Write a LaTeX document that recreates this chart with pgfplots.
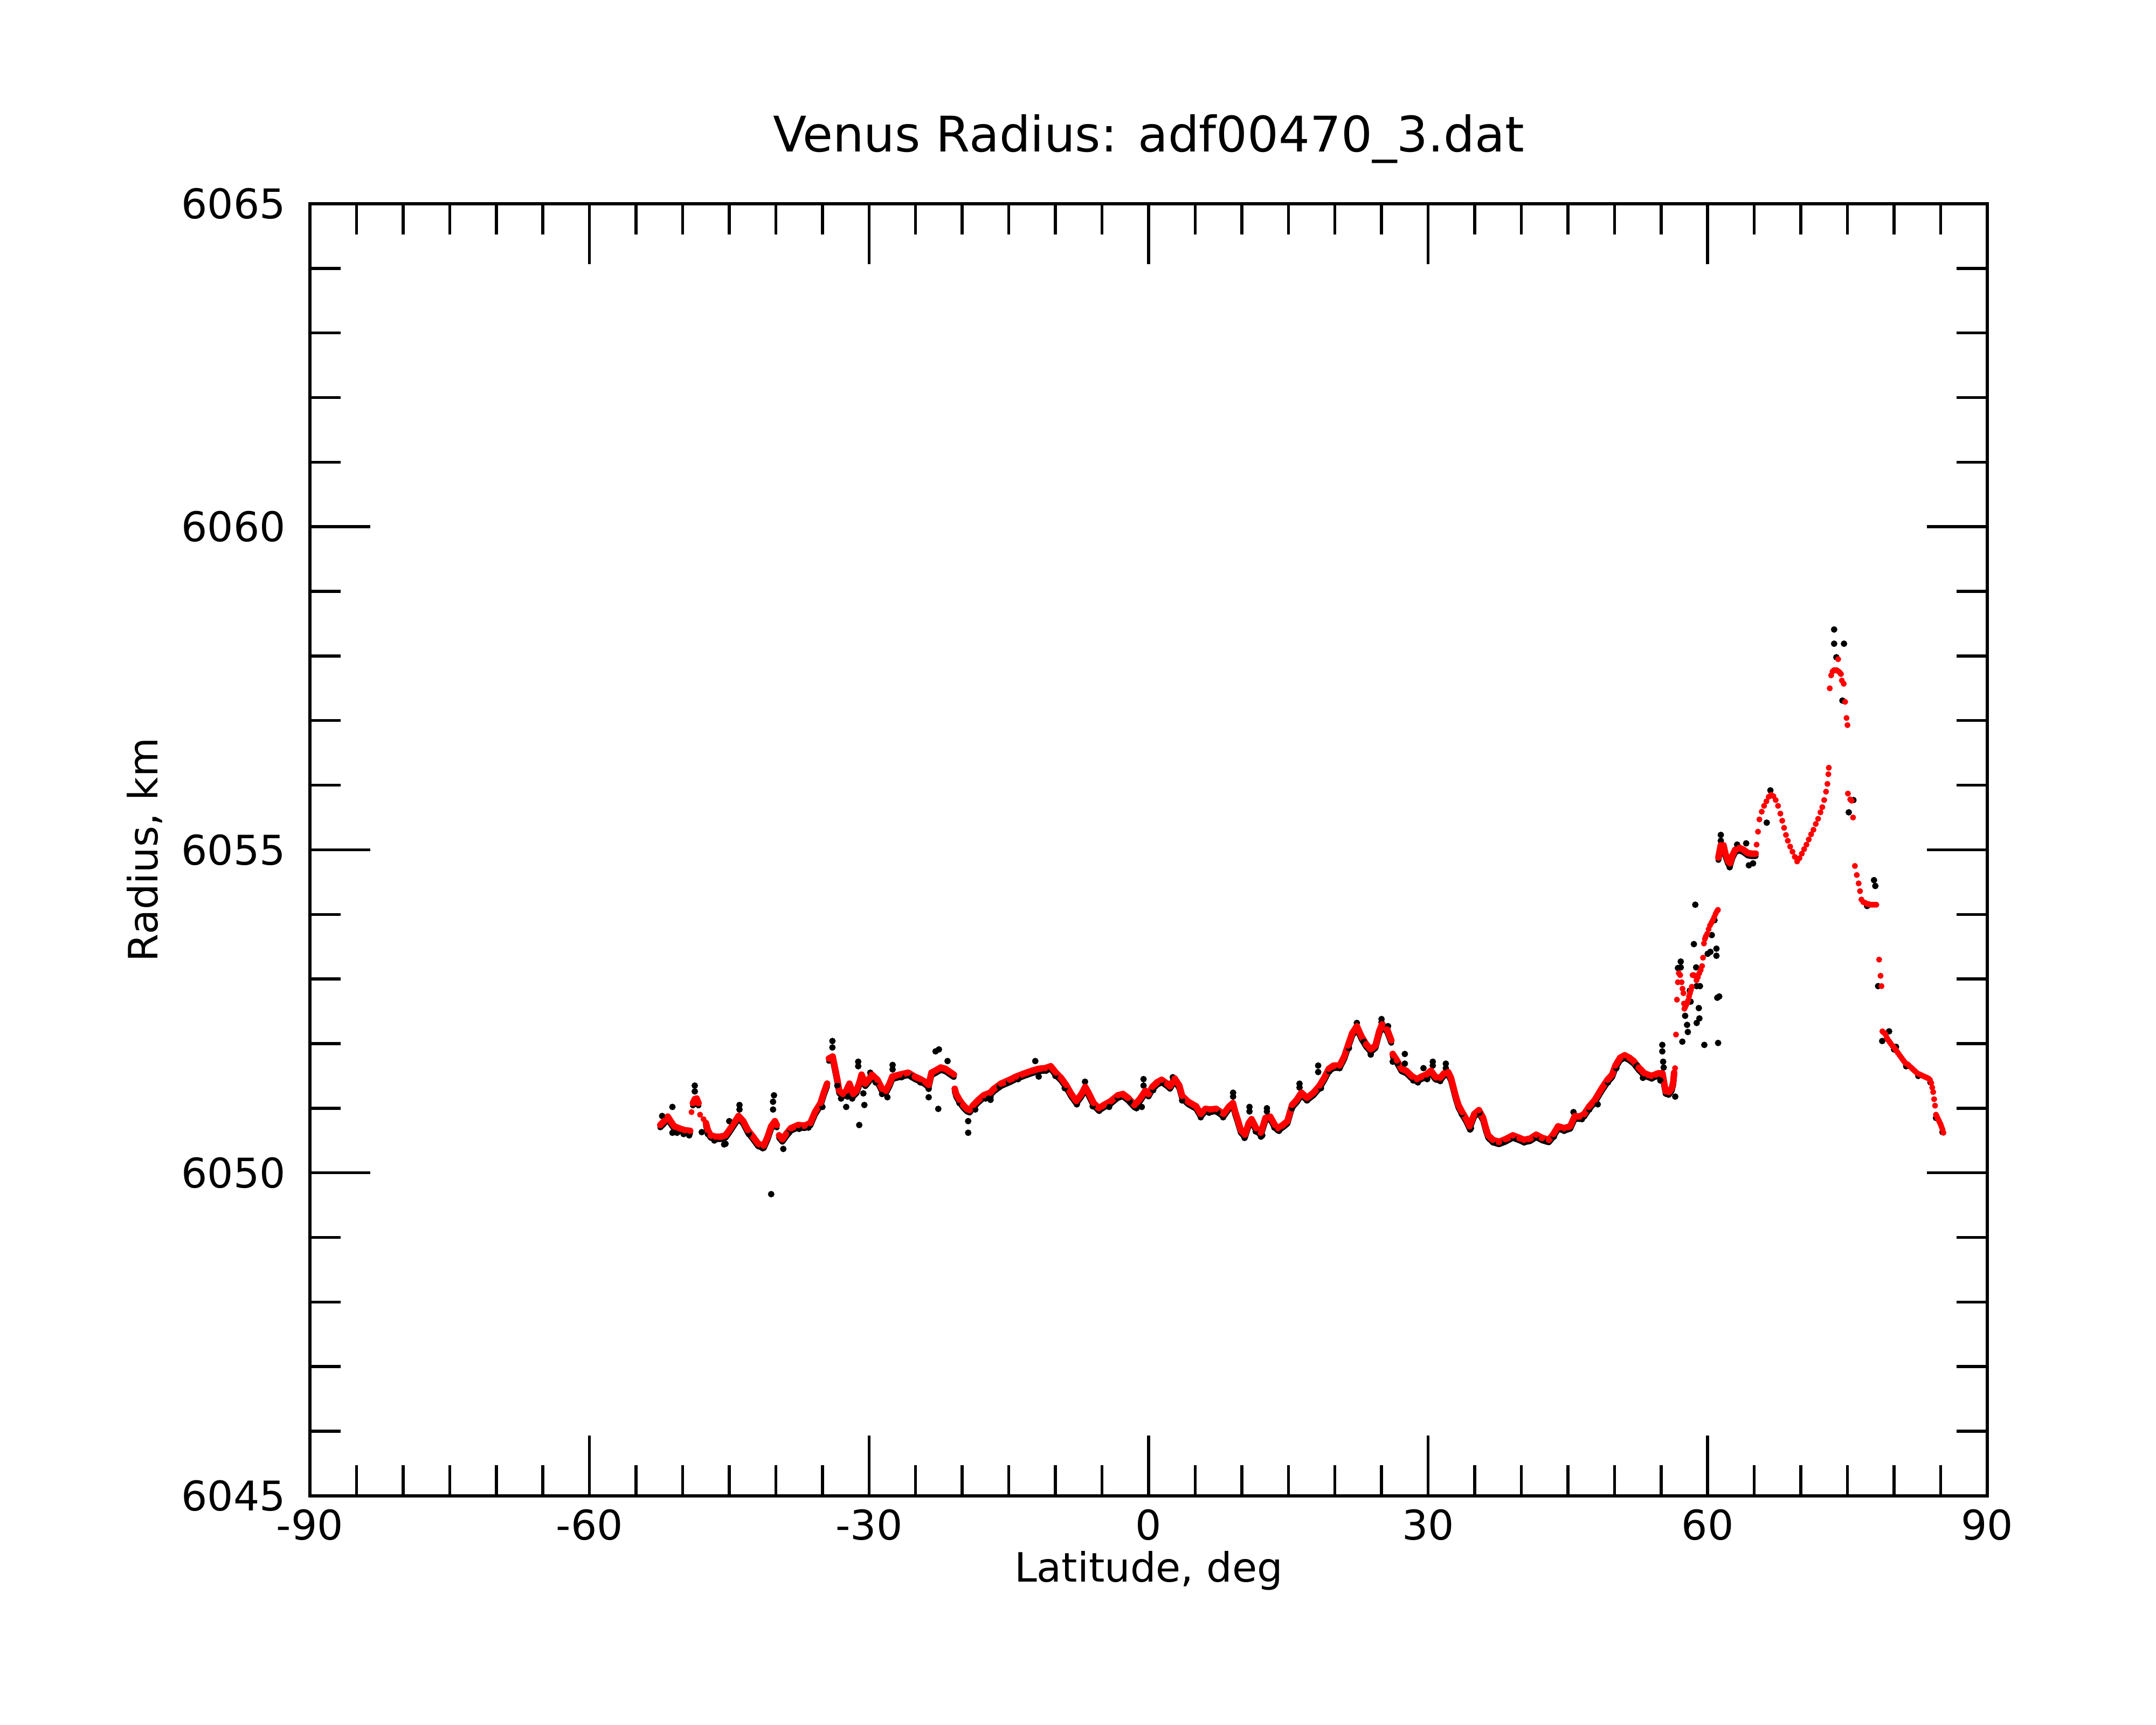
\documentclass[border=0pt]{standalone}
\usepackage{fontspec}
\setmainfont{DejaVu Sans}
\usepackage{pgfplots}
\usepackage{pgfplotstable}
\pgfplotsset{compat=1.18}
\pgfplotstableread[row sep=\\]{
x y \\
-52.4 6050.74 \\ -52.0 6050.80 \\ -51.6 6050.87 \\ -51.2 6050.78 \\ -50.9 6050.72 \\ -50.4 6050.69 \\
-49.8 6050.66 \\ -49.2 6050.65 \\ nan nan \\
-48.9 6051.08 \\ -48.7 6051.14 \\ -48.5 6051.15 \\ -48.3 6051.08 \\ nan nan \\
-47.5 6050.77 \\ -47.3 6050.66 \\ -47.0 6050.58 \\ -46.5 6050.56 \\ -45.9 6050.56 \\ -45.4 6050.58 \\
-45.0 6050.66 \\ -44.5 6050.77 \\ -44.0 6050.88 \\ -43.5 6050.80 \\ -43.0 6050.66 \\ -42.4 6050.55 \\
-41.9 6050.45 \\ -41.3 6050.42 \\ -40.9 6050.55 \\ -40.5 6050.72 \\ -40.1 6050.80 \\ -39.9 6050.74 \\ nan nan \\
-39.65 6050.58 \\ -39.3 6050.52 \\ -38.9 6050.60 \\ -38.4 6050.69 \\ -37.6 6050.74 \\ -36.9 6050.73 \\
-36.3 6050.77 \\ -35.8 6050.94 \\ -35.2 6051.08 \\ -34.85 6051.24 \\ -34.5 6051.38 \\ nan nan \\
-34.3 6051.77 \\ -33.9 6051.80 \\ -33.75 6051.69 \\ -33.55 6051.55 \\ -33.4 6051.44 \\ -33.2 6051.27 \\
-32.8 6051.22 \\ -32.45 6051.27 \\ -32.1 6051.38 \\ -31.7 6051.22 \\ -31.35 6051.27 \\ -31.0 6051.41 \\
-30.8 6051.52 \\ -30.4 6051.38 \\ -30.05 6051.44 \\ -29.7 6051.52 \\ -29.1 6051.44 \\ -28.6 6051.30 \\
-28.2 6051.27 \\ -27.8 6051.38 \\ -27.5 6051.49 \\ -26.7 6051.52 \\ -25.8 6051.55 \\ -25.1 6051.49 \\
-24.5 6051.45 \\ -24.0 6051.41 \\ -23.6 6051.36 \\ -23.3 6051.55 \\ -22.9 6051.58 \\ -22.3 6051.63 \\
-21.8 6051.61 \\ -21.2 6051.55 \\ -20.9 6051.52 \\ nan nan \\
-20.8 6051.30 \\ -20.65 6051.22 \\ -20.3 6051.13 \\ -19.9 6051.05 \\ -19.5 6050.99 \\ -19.2 6050.97 \\
-18.8 6051.05 \\ -18.25 6051.13 \\ -17.7 6051.20 \\ -17.0 6051.24 \\ -16.6 6051.30 \\ -15.85 6051.38 \\
-14.9 6051.44 \\ -14.2 6051.49 \\ -13.3 6051.54 \\ -12.5 6051.58 \\ -11.8 6051.61 \\ -11.1 6051.62 \\
-10.5 6051.65 \\ -9.95 6051.55 \\ -9.4 6051.47 \\ -8.85 6051.36 \\ -8.3 6051.22 \\ -7.75 6051.11 \\
-7.2 6051.22 \\ -6.8 6051.33 \\ -6.45 6051.24 \\ -5.9 6051.08 \\ -5.35 6051.00 \\ -4.8 6051.05 \\
-4.05 6051.11 \\ -3.3 6051.20 \\ -2.75 6051.22 \\ -2.2 6051.16 \\ -1.5 6051.05 \\ -0.9 6051.15 \\
-0.35 6051.27 \\ 0.0 6051.22 \\ 0.4 6051.33 \\ 0.9 6051.40 \\ 1.4 6051.44 \\ 2.0 6051.38 \\
2.3 6051.34 \\ 2.8 6051.46 \\ 3.3 6051.35 \\ 3.6 6051.19 \\ 4.25 6051.10 \\ 5.1 6051.03 \\
5.6 6050.91 \\ 6.1 6050.99 \\ 6.6 6050.98 \\ 7.25 6050.99 \\ 8.05 6050.91 \\ 8.6 6051.02 \\
9.05 6051.08 \\ 9.3 6050.94 \\ 9.55 6050.83 \\ 9.9 6050.66 \\ 10.35 6050.59 \\ 10.75 6050.77 \\
11.05 6050.83 \\ 11.55 6050.69 \\ 12.05 6050.62 \\ 12.55 6050.85 \\ 13.05 6050.87 \\ 13.55 6050.74 \\
13.9 6050.69 \\ 14.4 6050.74 \\ 14.9 6050.80 \\ 15.4 6051.05 \\ 15.9 6051.13 \\ 16.4 6051.24 \\
17.0 6051.16 \\ 17.7 6051.24 \\ 18.35 6051.35 \\ 18.85 6051.47 \\ 19.35 6051.61 \\ 19.85 6051.66 \\
20.5 6051.66 \\ 21.0 6051.80 \\ 21.4 6051.97 \\ 21.85 6052.16 \\ 22.35 6052.27 \\ 22.85 6052.11 \\
23.35 6051.99 \\ 23.85 6051.91 \\ 24.35 6051.97 \\ 24.75 6052.19 \\ 25.05 6052.30 \\ 25.6 6052.22 \\
26.05 6052.05 \\ nan nan \\
26.2 6051.84 \\ 26.65 6051.74 \\ 27.15 6051.61 \\ 27.65 6051.58 \\ 28.3 6051.49 \\ 28.8 6051.45 \\
29.3 6051.49 \\ 29.8 6051.52 \\ 30.3 6051.58 \\ 30.8 6051.48 \\ 31.3 6051.47 \\ 31.7 6051.54 \\
32.15 6051.56 \\ 32.45 6051.47 \\ 32.7 6051.33 \\ 32.95 6051.19 \\ 33.25 6051.05 \\ 33.65 6050.94 \\
34.1 6050.83 \\ 34.45 6050.72 \\ 34.95 6050.91 \\ 35.45 6050.97 \\ 35.9 6050.85 \\ 36.2 6050.69 \\
36.45 6050.58 \\ 36.95 6050.51 \\ 37.6 6050.48 \\ 38.3 6050.52 \\ 39.1 6050.58 \\ 39.8 6050.54 \\
40.3 6050.51 \\ 40.95 6050.53 \\ 41.6 6050.59 \\ 42.25 6050.54 \\ 42.95 6050.51 \\ 43.45 6050.60 \\
43.95 6050.72 \\ 44.6 6050.69 \\ 45.25 6050.72 \\ 45.75 6050.88 \\ 46.25 6050.87 \\ 46.75 6050.91 \\
47.25 6051.02 \\ 47.9 6051.13 \\ 48.6 6051.30 \\ 49.25 6051.44 \\ 49.75 6051.52 \\ 50.1 6051.66 \\
50.6 6051.78 \\ 51.1 6051.82 \\ 51.6 6051.78 \\ 52.05 6051.73 \\ 52.6 6051.63 \\ 53.2 6051.54 \\
53.95 6051.50 \\ 54.7 6051.54 \\ 55.15 6051.54 \\ 55.35 6051.37 \\ 55.5 6051.26 \\ 55.85 6051.25 \\
56.15 6051.31 \\ 56.3 6051.40 \\ 56.4 6051.55 \\ nan nan \\
61.15 6054.88 \\ 61.4 6055.07 \\ 61.7 6055.07 \\ 61.9 6054.94 \\ 62.2 6054.82 \\ 62.4 6054.79 \\
62.65 6054.91 \\ 62.95 6055.00 \\ 63.4 6055.03 \\ 63.85 6055.00 \\ 64.3 6054.95 \\ 64.7 6054.94 \\
65.15 6054.94 \\
}\reddense
\begin{document}
\begin{tikzpicture}
\useasboundingbox (0,0) rectangle (400pt,320pt);
\begin{axis}[
  at={(57.5pt,42.5pt)}, anchor=south west,
  scale only axis, width=311.2pt, height=239.7pt,
  xmin=-90, xmax=90, ymin=6045, ymax=6065,
  xtick={-90,-60,-30,0,30,60,90},
  xticklabels={-90,-60,-30,0,30,60,90},
  ytick={6045,6050,6055,6060,6065},
  yticklabels={6045,6050,6055,6060,6065},
  minor x tick num=5, minor y tick num=4,
  tick align=inside,
  major tick length=11.2pt, minor tick length=5.7pt,
  tick style={black, line width=0.55pt},
  axis line style={line width=0.55pt},
  tick label style={font=\fontsize{7.6}{9}\selectfont},
  x tick label style={anchor=north, inner sep=0pt, yshift=-2.3pt},
  y tick label style={anchor=east, inner sep=0pt, xshift=-4.3pt},
  title={Venus Radius: adf00470\_3.dat},
  every axis title/.style={at={(axis description cs:0.5,1)}, anchor=base, yshift=9.6pt, font=\fontsize{9.1}{11}\selectfont},
  xlabel={Latitude, deg}, ylabel={Radius, km},
  every axis x label/.style={at={(axis description cs:0.5,0)}, anchor=base, yshift=-16pt, font=\fontsize{7.5}{9}\selectfont},
  every axis y label/.style={at={(axis description cs:0,0.5)}, xshift=-28.3pt, rotate=90, anchor=base, font=\fontsize{7.5}{9}\selectfont},
  unbounded coords=jump,
]
% raw data (black): points lying along the curve, just below it
\addplot[black, line width=1.1pt, line join=round, line cap=round, yshift=-0.45pt] table {\reddense};
% raw data (black): scattered points
\addplot[only marks, mark=*, mark size=0.55pt, black, mark options={line width=0.1pt}] table[row sep=\\]{
x y \\
-52.2 6050.88 \\ -51.1 6051.02 \\ -51.1 6050.62 \\ -50.6 6050.62 \\ -49.9 6050.60 \\ -49.3 6050.58 \\
-48.7 6051.35 \\ -48.7 6051.26 \\ -47.95 6050.63 \\ -47.3 6050.60 \\ -46.6 6050.50 \\ -45.55 6050.44 \\
-45.4 6050.45 \\ -45.0 6050.80 \\ -43.9 6051.05 \\ -43.9 6050.98 \\ -42.9 6050.60 \\ -41.4 6050.38 \\
-40.5 6049.67 \\ -40.2 6051.20 \\ -40.3 6050.98 \\ -40.3 6051.10 \\ -39.2 6050.37 \\ -38.6 6050.62 \\
-37.5 6050.68 \\ -36.5 6050.70 \\ -35.0 6051.02 \\ -33.93 6052.04 \\ -33.93 6051.94 \\ -33.4 6051.35 \\
-33.0 6051.15 \\ -32.45 6051.02 \\ -32.3 6051.18 \\ -31.8 6051.15 \\ -31.16 6051.72 \\ -31.16 6051.65 \\
-31.05 6050.74 \\ -30.61 6051.23 \\ -30.5 6051.05 \\ -29.87 6051.55 \\ -29.3 6051.40 \\ -28.6 6051.22 \\
-28.03 6051.17 \\ -27.47 6051.67 \\ -27.47 6051.60 \\ -26.5 6051.48 \\ -25.5 6051.50 \\ -24.5 6051.40 \\
-23.6 6051.17 \\ -23.6 6051.30 \\ -22.86 6051.88 \\ -22.5 6051.91 \\ -22.57 6050.99 \\ -21.57 6051.73 \\
-21.0 6051.50 \\ -20.3 6051.08 \\ -19.36 6050.80 \\ -19.36 6050.62 \\ -18.6 6050.98 \\ -17.5 6051.15 \\
-16.96 6051.17 \\ -16.96 6051.13 \\ -16.0 6051.33 \\ -15.0 6051.40 \\ -14.0 6051.45 \\ -12.16 6051.73 \\
-11.79 6051.49 \\ -11.0 6051.58 \\ -10.0 6051.50 \\ -9.0 6051.31 \\ -7.7 6051.06 \\ -6.82 6051.41 \\
-6.0 6051.03 \\ -5.3 6050.96 \\ -4.23 6051.02 \\ -3.3 6051.16 \\ -2.0 6051.10 \\ -1.3 6051.00 \\
-0.54 6051.45 \\ -0.54 6051.35 \\ -0.73 6051.02 \\ 0.5 6051.28 \\ 1.5 6051.40 \\ 2.6 6051.48 \\
3.6 6051.12 \\ 5.6 6050.86 \\ 6.5 6050.93 \\ 7.4 6050.94 \\ 8.0 6050.86 \\ 9.07 6051.24 \\
9.07 6051.18 \\ 10.3 6050.54 \\ 10.83 6051.02 \\ 10.83 6050.95 \\ 11.5 6050.64 \\ 12.06 6050.56 \\
12.2 6050.58 \\ 12.7 6051.00 \\ 12.7 6050.95 \\ 13.5 6050.70 \\ 14.0 6050.65 \\ 15.4 6051.00 \\
16.2 6051.38 \\ 16.2 6051.32 \\ 17.0 6051.12 \\ 18.2 6051.66 \\ 18.2 6051.56 \\ 18.5 6051.31 \\
19.4 6051.57 \\ 20.5 6051.62 \\ 21.5 6051.93 \\ 22.35 6052.32 \\ 23.1 6052.03 \\ 23.84 6051.86 \\
23.84 6051.83 \\ 25.0 6052.38 \\ 25.0 6052.33 \\ 25.7 6052.27 \\ 26.2 6051.72 \\ 26.7 6051.70 \\
27.5 6051.84 \\ 27.5 6051.69 \\ 28.4 6051.43 \\ 28.9 6051.40 \\ 29.5 6051.62 \\ 29.9 6051.45 \\
30.5 6051.72 \\ 30.5 6051.66 \\ 31.3 6051.42 \\ 31.9 6051.69 \\ 31.9 6051.62 \\ 33.6 6050.91 \\
34.6 6050.69 \\ 34.5 6050.67 \\ 35.5 6050.93 \\ 37.0 6050.47 \\ 38.2 6050.48 \\ 39.2 6050.54 \\
40.3 6050.47 \\ 41.6 6050.55 \\ 42.6 6050.49 \\ 43.5 6050.56 \\ 44.6 6050.65 \\ 45.6 6050.94 \\
46.5 6050.83 \\ 47.3 6050.98 \\ 48.2 6051.06 \\ 49.3 6051.40 \\ 50.2 6051.62 \\ 51.1 6051.80 \\
52.4 6051.66 \\ 53.05 6051.47 \\ 54.0 6051.46 \\ 55.13 6051.98 \\ 55.13 6051.88 \\ 55.22 6051.72 \\
55.28 6051.63 \\ 54.92 6051.43 \\ 56.52 6051.18 \\ 55.8 6051.21 \\ 57.11 6053.27 \\ 57.11 6053.18 \\
56.81 6053.17 \\ 57.28 6052.03 \\ 57.58 6052.43 \\ 57.79 6052.29 \\ 57.87 6052.18 \\ 58.17 6052.65 \\
58.08 6052.82 \\ 58.52 6053.54 \\ 58.67 6054.15 \\ 58.76 6053.18 \\ 58.82 6052.89 \\ 58.82 6052.32 \\
59.05 6052.55 \\ 59.11 6052.39 \\ 59.17 6052.89 \\ 59.64 6051.98 \\ 60.0 6053.39 \\ 60.29 6053.42 \\
60.44 6053.68 \\ 60.73 6053.91 \\ 60.94 6053.47 \\ 60.94 6053.36 \\ 61.03 6052.71 \\ 61.12 6052.01 \\
61.24 6052.73 \\ 61.41 6055.23 \\ 61.41 6055.14 \\ 62.36 6054.73 \\ 63.16 6055.08 \\ 64.13 6055.10 \\
64.42 6054.76 \\ 64.87 6054.79 \\ 66.34 6055.42 \\ 66.73 6055.92 \\ 73.57 6058.41 \\ 73.57 6058.19 \\
74.63 6058.19 \\ 73.81 6057.98 \\ 74.46 6057.31 \\ 75.14 6055.58 \\ 75.64 6055.77 \\ 77.85 6054.53 \\
77.99 6054.44 \\ 77.11 6054.13 \\ 78.73 6052.04 \\ 79.47 6052.19 \\ 80.21 6051.95 \\ 78.29 6052.89 \\
84.5 6050.85 \\ 85.2 6050.63 \\ 82.6 6051.50 \\ 81.3 6051.65 \\ 80.0 6051.91 \\ 83.9 6051.40 \\
};
% filtered data (red), dense stretches
\addplot[red, line width=1.2pt, line join=round, line cap=round, mark=*, mark size=0.55pt, mark options={line width=0.1pt}] table {\reddense};
% filtered data (red), sparse stretches
\addplot[only marks, mark=*, mark size=0.5pt, red, mark options={line width=0.1pt}] table[row sep=\\]{
x y \\
-49.05 6050.94 \\ -48.13 6050.90 \\ -47.76 6050.83 \\
56.5 6051.62 \\ 56.6 6052.14 \\ 56.7 6052.68 \\ 56.8 6052.95 \\ 56.9 6053.09 \\ 57.05 6053.06 \\
57.2 6052.95 \\ 57.3 6052.85 \\ 57.4 6052.78 \\ 57.45 6052.62 \\ 57.5 6052.54 \\ 57.6 6052.57 \\
57.7 6052.60 \\ 57.8 6052.63 \\ 57.9 6052.67 \\ 58.0 6052.73 \\ 58.1 6052.78 \\ 58.2 6052.83 \\
58.3 6052.88 \\ 58.38 6053.06 \\ 58.5 6053.06 \\ 58.65 6053.05 \\ 58.8 6052.98 \\ 58.95 6053.03 \\
59.1 6053.09 \\ 59.25 6053.14 \\ 59.4 6053.20 \\ 59.5 6053.33 \\ 59.6 6053.55 \\ 59.7 6053.62 \\
59.8 6053.66 \\ 59.95 6053.70 \\ 60.1 6053.77 \\ 60.25 6053.83 \\ 60.4 6053.87 \\ 60.55 6053.91 \\
60.7 6053.96 \\ 60.85 6054.01 \\ 61.0 6054.05 \\ 61.1 6054.07 \\
65.25 6055.08 \\ 65.4 6055.28 \\ 65.55 6055.47 \\ 65.8 6055.59 \\
66.05 6055.68 \\ 66.3 6055.75 \\ 66.55 6055.82 \\ 66.8 6055.85 \\
67.05 6055.83 \\ 67.3 6055.77 \\ 67.55 6055.68 \\ 67.8 6055.56 \\ 68.0 6055.45 \\ 68.2 6055.34 \\
68.4 6055.23 \\ 68.6 6055.14 \\ 68.85 6055.05 \\ 69.1 6054.97 \\ 69.35 6054.89 \\
69.6 6054.82 \\ 69.85 6054.87 \\ 70.1 6054.94 \\ 70.35 6055.01 \\
70.6 6055.08 \\ 70.85 6055.16 \\ 71.1 6055.24 \\ 71.35 6055.31 \\
71.6 6055.40 \\ 71.85 6055.48 \\ 72.1 6055.58 \\
72.3 6055.66 \\ 72.5 6055.77 \\ 72.7 6055.90 \\ 72.85 6056.02 \\ 72.95 6056.17 \\
73.0 6056.27 \\ 73.1 6057.50 \\ 73.25 6057.70 \\ 73.4 6057.76 \\ 73.55 6057.78 \\ 73.7 6057.78 \\
73.85 6057.78 \\ 74.0 6057.95 \\ 74.05 6057.76 \\ 74.2 6057.74 \\ 74.3 6057.72 \\ 74.4 6057.62 \\
74.6 6057.57 \\ 74.75 6057.29 \\ 74.9 6057.04 \\ 75.0 6056.93 \\ 75.05 6055.87 \\ 75.3 6055.78 \\
75.45 6055.76 \\ 75.6 6055.50 \\ 75.8 6054.75 \\ 76.0 6054.61 \\ 76.2 6054.48 \\ 76.35 6054.36 \\
76.5 6054.23 \\ 76.7 6054.19 \\ 76.9 6054.18 \\ 77.1 6054.16 \\ 77.3 6054.16 \\ 77.5 6054.15 \\
77.7 6054.15 \\ 77.9 6054.15 \\ 78.1 6054.15 \\ 78.4 6053.30 \\ 78.55 6053.05 \\ 78.65 6052.89 \\
78.75 6052.19 \\ 78.9 6052.17 \\ 79.05 6052.15 \\ 79.2 6052.10 \\ 79.35 6052.06 \\ 79.5 6052.03 \\
79.65 6052.00 \\ 79.8 6051.97 \\ 79.95 6051.95 \\ 80.1 6051.92 \\ 80.25 6051.89 \\ 80.4 6051.86 \\
80.55 6051.83 \\ 80.7 6051.80 \\ 80.85 6051.77 \\ 81.0 6051.74 \\ 81.15 6051.71 \\ 81.3 6051.69 \\
81.45 6051.68 \\ 81.6 6051.66 \\ 81.75 6051.64 \\ 81.9 6051.62 \\ 82.05 6051.60 \\ 82.2 6051.58 \\
82.35 6051.56 \\ 82.5 6051.54 \\ 82.65 6051.53 \\ 82.8 6051.52 \\ 82.95 6051.51 \\ 83.1 6051.50 \\
83.25 6051.49 \\ 83.4 6051.48 \\ 83.55 6051.47 \\ 83.7 6051.46 \\ 83.85 6051.44 \\ 84.0 6051.39 \\
84.1 6051.32 \\ 84.2 6051.25 \\ 84.3 6051.14 \\ 84.4 6051.04 \\ 84.5 6050.90 \\ 84.6 6050.87 \\
84.7 6050.84 \\ 84.8 6050.81 \\ 84.9 6050.78 \\ 85.0 6050.75 \\ 85.1 6050.71 \\ 85.2 6050.67 \\
85.3 6050.62 \\
};
\end{axis}
\end{tikzpicture}
\end{document}
